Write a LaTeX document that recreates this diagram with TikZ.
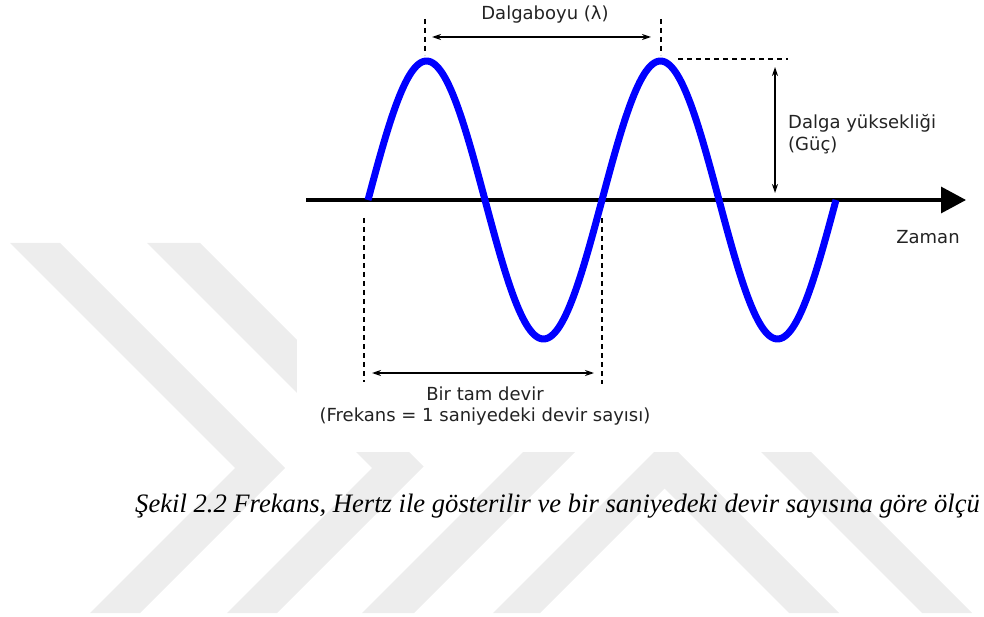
\documentclass[tikz,border=0pt]{standalone}
\usepackage{fontspec}
\setmainfont{DejaVu Sans}
\newfontfamily\capfont{Liberation Serif}
\usetikzlibrary{arrows.meta}
\definecolor{wmgray}{RGB}{237,237,237}
\definecolor{wblue}{RGB}{0,0,255}
\definecolor{txt}{RGB}{35,35,35}
\begin{document}
\begin{tikzpicture}[x=1pt,y=-1pt,
  wm/.style={fill=wmgray, draw=none},
  wave/.style={wblue, line width=7pt, line join=round},
  axis/.style={line width=3.2pt, -{Triangle[length=25pt,width=26pt]}},
  dim/.style={line width=1.4pt, {Stealth[length=9pt,width=6pt]}-{Stealth[length=9pt,width=6pt]}},
  guide/.style={line width=1.3pt, dash pattern=on 5pt off 4pt},
  lbl/.style={font=\fontsize{18}{21.5}\selectfont, text=txt, inner sep=0pt},
]
\useasboundingbox (0,0) rectangle (984,617);
% watermark
\fill[wm] (10,243) -- (60,243) -- (285,468) -- (140,613) -- (90,613) -- (235,468) -- cycle;
\fill[wm] (147,243) -- (200,243) -- (423.5,466.5) -- (277,613) -- (227,613) -- (372,468) -- cycle;
\fill[wm] (362,613) -- (667,308) -- (972,613) -- (922,613) -- (668,359) -- (414,613) -- cycle;
\fill[wm] (493,613) -- (666,440) -- (839,613) -- (789,613) -- (664.5,488.5) -- (540,613) -- cycle;
% figure background
\fill[white] (297,0) rectangle (984,452);
% coordinates
\coordinate (axL) at (306,200);
\coordinate (axR) at (966,200);
\coordinate (p1) at (425,55);
\coordinate (p1t) at (425,19);
\coordinate (p2) at (661,55);
\coordinate (p2t) at (661,19);
\coordinate (hd1) at (678,59);
\coordinate (hd2) at (788,59);
\coordinate (wa1) at (432,37);
\coordinate (wa2) at (651,37);
\coordinate (ha1) at (775,67);
\coordinate (ha2) at (775,193);
\coordinate (lg1) at (364,218);
\coordinate (lg1b) at (364,382);
\coordinate (lg2) at (602,218);
\coordinate (lg2b) at (602,384);
\coordinate (ba1) at (372,373);
\coordinate (ba2) at (594,373);
% axis
\draw[axis] (axL) -- (axR);
% wave
\draw[wave] plot[domain=0:720, samples=240] ({368+0.65*\x},{200-139*sin(\x)});
% guides
\draw[guide] (p1t) -- (p1);
\draw[guide] (p2t) -- (p2);
\draw[guide] (hd1) -- (hd2);
\draw[guide] (lg1) -- (lg1b);
\draw[guide] (lg2) -- (lg2b);
% dimension arrows
\draw[dim] (wa1) -- (wa2);
\draw[dim] (ha1) -- (ha2);
\draw[dim] (ba1) -- (ba2);
% labels
\node[lbl] (wl) at (545,15) {Dalgaboyu (λ)};
\node[lbl, anchor=west, align=left] (hl) at (788,134) {Dalga yüksekliği\\(Güç)};
\node[lbl] (zl) at (928,237) {Zaman};
\node[lbl, align=center] (cl) at (485,406) {Bir tam devir\\(Frekans = 1 saniyedeki devir sayısı)};
% caption
\node[anchor=base west, inner sep=0pt, font=\capfont\itshape\fontsize{26.6}{30}\selectfont] (cap) at (135,512) {Şekil 2.2 Frekans, Hertz ile gösterilir ve bir saniyedeki devir sayısına göre ölçü};
\end{tikzpicture}
\end{document}
